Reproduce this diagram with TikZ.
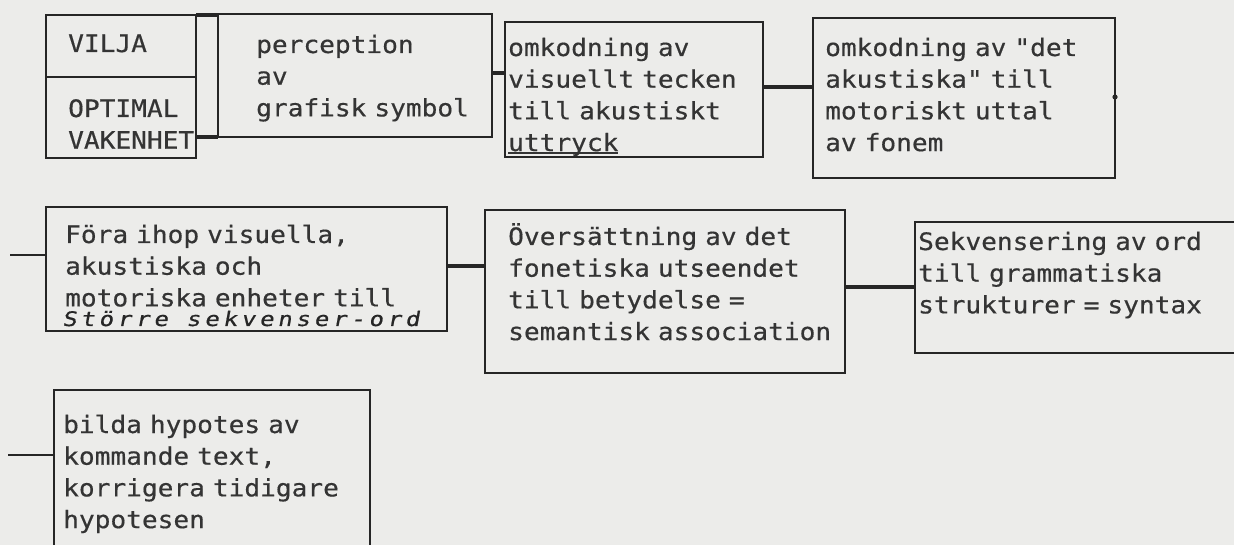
\documentclass[tikz,border=0pt]{standalone}
\usepackage{fontspec}
\newfontfamily\typewriter[FakeStretch=1.09,FakeBold=0.5]{DejaVu Sans Mono}
\newfontfamily\scrawl[FakeSlant=0.18,FakeStretch=1.2,LetterSpace=19,FakeBold=0.6]{DejaVu Sans Mono}
\definecolor{paper}{RGB}{236,236,234}
\definecolor{ink}{RGB}{38,38,38}
\definecolor{typeink}{RGB}{52,52,52}
% typewriter face: every space is one full character cell
\newcommand{\typeface}{\typewriter\fontsize{24}{31.7}\selectfont\fontdimen2\font=15.75pt\fontdimen3\font=0pt\fontdimen4\font=0pt}
\newcommand{\typedunder}[2]{\makebox[0pt][l]{\rule[-2.5pt]{#1}{1.3pt}}#2}
\tikzset{
  box/.style={draw=ink, line width=1.5pt, rectangle, inner sep=0pt, outer sep=0pt, anchor=north west},
  link/.style={draw=ink, line width=3.2pt},
  stub/.style={draw=ink, line width=2.6pt},
  typed/.style={font=\typeface, text=typeink,
    text width=420pt, align=left, inner sep=0pt, anchor=base west},
  handwritten/.style={font=\scrawl\fontsize{20}{22}\selectfont, text=ink, inner sep=0pt, anchor=base west},
}
\begin{document}
\begin{tikzpicture}[x=1pt,y=-1pt]
  \useasboundingbox (0,0) rectangle (1234,545);
  \clip (0,0) rectangle (1234,545);
  \fill[paper] (0,0) rectangle (1234,545);

  % first row
  \node[box, minimum width=150pt, minimum height=143pt] (A) at (46,15) {};
  \draw[ink, line width=1.5pt] (A.west |- 0,77) -- (A.east |- 0,77);
  \node[box, minimum width=274pt, minimum height=123pt] (B) at (218,14) {};
  \node[box, minimum width=258pt, minimum height=135pt] (C) at (505,22) {};
  \node[box, minimum width=302pt, minimum height=160pt] (D) at (813,18) {};

  % second row
  \node[box, minimum width=401pt, minimum height=124pt] (E) at (46,207) {};
  \node[box, minimum width=360pt, minimum height=163pt] (F) at (485,210) {};
  \node[box, minimum width=340pt, minimum height=131pt] (G) at (915,222) {};

  % third row
  \node[box, minimum width=316pt, minimum height=175pt] (H) at (54,390) {};

  % connectors
  \draw[link] (A.north east) -- (A.north east -| B.west);
  \draw[link] (B.south west -| A.east) -- (B.south west);
  \draw[link] (B.east |- 0,73) -- (C.west |- 0,73);
  \draw[link] (C.east |- 0,87) -- (D.west |- 0,87);
  \fill[ink] (D.east |- 0,97) circle (2.6);
  \coordinate (intoE) at (10,255);
  \draw[stub] (intoE) -- (E.west |- intoE);
  \draw[link] (E.east |- 0,266) -- (F.west |- 0,266);
  \draw[link] (F.east |- 0,287) -- (G.west |- 0,287);
  \coordinate (intoH) at (8,455);
  \draw[stub] (intoH) -- (H.west |- intoH);

  % texts
  \node[typed] (tA1) at (68,52) {VILJA};
  \node[typed] (tA2) at (68,117) {OPTIMAL\\VAKENHET};
  \node[typed] (tB) at (256,53) {perception\\av\\grafisk symbol};
  \node[typed] (tC) at (508,56) {omkodning av\\visuellt tecken\\till akustiskt\\\typedunder{110pt}{uttryck}};
  \node[typed] (tD) at (825,56) {omkodning av "det\\akustiska" till\\motoriskt uttal\\av fonem};
  \node[typed] (tE) at (65,243) {Föra ihop visuella,\\akustiska och\\motoriska enheter till};
  \node[handwritten] (tE2) at (62,326) {Större sekvenser-ord};
  \node[typed] (tF) at (508,245) {Översättning av det\\fonetiska utseendet\\till betydelse =\\semantisk association};
  \node[typed] (tG) at (918,250) {Sekvensering av ord\\till grammatiska\\strukturer = syntax};
  \node[typed] (tH) at (63,433) {bilda hypotes av\\kommande text,\\korrigera tidigare\\hypotesen};
\end{tikzpicture}
\end{document}
